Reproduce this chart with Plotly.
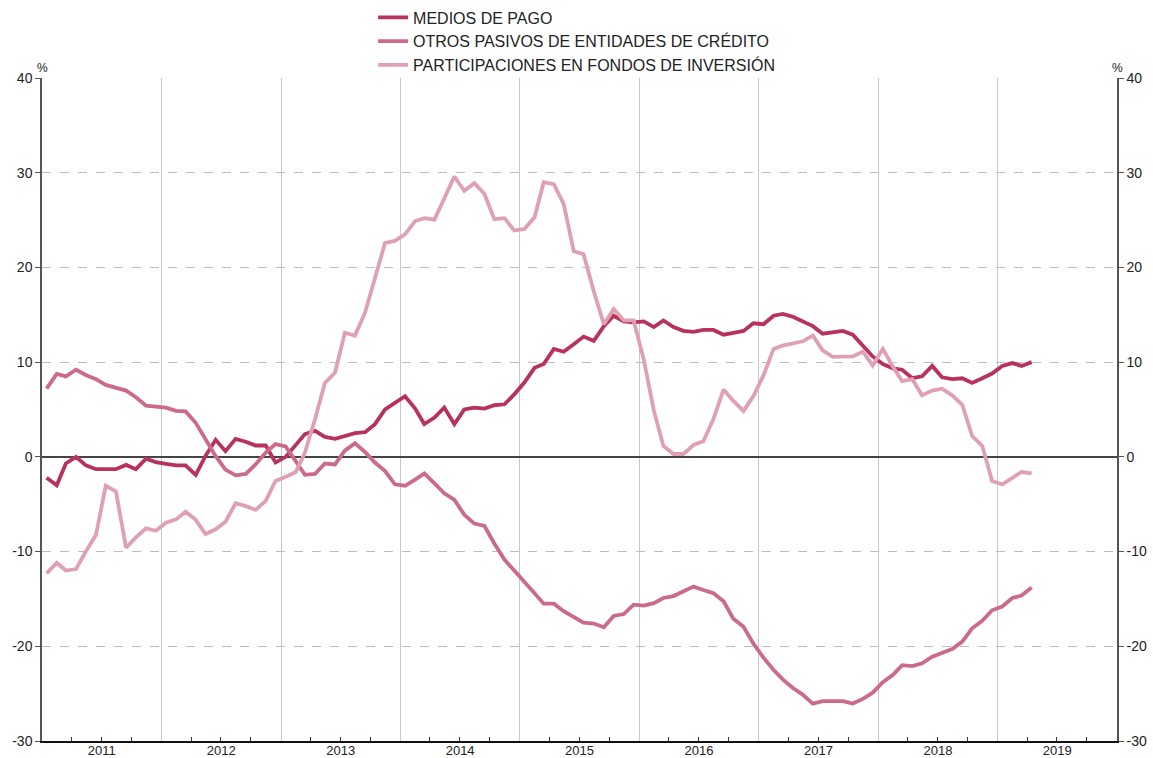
import pandas as pd
import plotly.graph_objects as go

# Monthly series, January 2011 - April 2019 (annual rate, %)
medios_de_pago = [
    -2.2, -3.0, -0.7, 0.0, -0.9, -1.3, -1.3, -1.3, -0.85, -1.3, -0.2, -0.55,
    -0.75, -0.9, -0.9, -1.9, 0.1, 1.8, 0.6, 1.9, 1.6, 1.2, 1.2, -0.6,
    0.0, 1.2, 2.4, 2.75, 2.1, 1.9, 2.2, 2.5, 2.6, 3.45, 5.0, 5.7,
    6.4, 5.1, 3.45, 4.15, 5.2, 3.45, 5.0, 5.2, 5.1, 5.45, 5.55, 6.6,
    7.85, 9.4, 9.8, 11.4, 11.1, 11.9, 12.7, 12.25, 13.8, 14.9, 14.3, 14.2,
    14.3, 13.7, 14.4, 13.7, 13.3, 13.2, 13.4, 13.4, 12.9, 13.1, 13.3, 14.1,
    14.0, 14.9, 15.1, 14.8, 14.3, 13.8, 13.0, 13.15, 13.3, 12.9, 11.7, 10.6,
    9.8, 9.35, 9.2, 8.3, 8.5, 9.6, 8.4, 8.2, 8.3, 7.8, 8.3, 8.8,
    9.6, 9.9, 9.6, 10.0,
]

otros_pasivos = [
    7.2, 8.75, 8.5, 9.2, 8.65, 8.2, 7.6, 7.35, 7.0, 6.3, 5.4, 5.3,
    5.2, 4.85, 4.8, 3.6, 1.85, 0.07, -1.35, -1.95, -1.8, -0.8, 0.45, 1.35,
    1.1, -0.4, -1.9, -1.8, -0.7, -0.8, 0.65, 1.45, 0.5, -0.6, -1.5, -2.9,
    -3.05, -2.4, -1.75, -2.8, -3.85, -4.55, -6.1, -7.05, -7.3, -9.15, -10.85, -12.0,
    -13.15, -14.4, -15.5, -15.5, -16.3, -16.9, -17.5, -17.6, -18.0, -16.8, -16.6, -15.6,
    -15.7, -15.45, -14.9, -14.7, -14.2, -13.7, -14.05, -14.4, -15.25, -17.1, -17.95, -19.7,
    -21.2, -22.5, -23.5, -24.4, -25.1, -26.05, -25.8, -25.8, -25.8, -26.05, -25.55, -24.9,
    -23.8, -23.0, -22.0, -22.1, -21.8, -21.1, -20.7, -20.3, -19.5, -18.1, -17.3, -16.2,
    -15.8, -14.9, -14.65, -13.8,
]

participaciones_fondos = [
    -12.3, -11.2, -12.0, -11.85, -10.0, -8.25, -3.05, -3.65, -9.6, -8.5, -7.55, -7.8,
    -6.95, -6.6, -5.8, -6.65, -8.15, -7.65, -6.85, -4.9, -5.2, -5.6, -4.65, -2.55,
    -2.1, -1.6, 0.45, 4.0, 7.8, 8.9, 13.1, 12.8, 15.25, 18.7, 22.6, 22.8,
    23.5, 24.9, 25.2, 25.05, 27.3, 29.6, 28.1, 28.9, 27.75, 25.1, 25.2, 23.9,
    24.05, 25.3, 29.0, 28.8, 26.7, 21.7, 21.4, 17.5, 14.0, 15.6, 14.4, 14.4,
    10.3, 4.85, 1.15, 0.3, 0.3, 1.25, 1.65, 4.0, 7.1, 5.9, 4.85, 6.4,
    8.6, 11.4, 11.75, 12.0, 12.2, 12.8, 11.25, 10.55, 10.6, 10.6, 11.1, 9.65,
    11.4, 9.5, 8.0, 8.2, 6.5, 7.0, 7.2, 6.5, 5.5, 2.2, 1.15, -2.55,
    -2.9, -2.2, -1.6, -1.75,
]

series_names = [
    "MEDIOS DE PAGO",
    "OTROS PASIVOS DE ENTIDADES DE CRÉDITO",
    "PARTICIPACIONES EN FONDOS DE INVERSIÓN",
]
series_colors = ["#b8325b", "#cc6a8b", "#e0a0b3"]

# Percentage scale shared by both vertical axes
y_ticks = [-30, -20, -10, 0, 10, 20, 30, 40]
y_tick_text = [str(v) for v in y_ticks]

# Observations plotted at mid-month
fechas = pd.date_range("2011-01-01", periods=len(medios_de_pago), freq="MS") + pd.Timedelta(days=14)

fig = go.Figure()
for name, values, color in zip(series_names,
                               [medios_de_pago, otros_pasivos, participaciones_fondos],
                               series_colors):
    fig.add_trace(go.Scatter(
        x=fechas, y=values, name=name, mode="lines",
        line=dict(color=color, width=3.8),
    ))

# Empty trace so the mirrored right-hand axis is drawn
fig.add_trace(go.Scatter(x=[fechas[0]], y=[None], yaxis="y2",
                         showlegend=False, hoverinfo="skip"))

axis_font = dict(family="Liberation Sans, Arial, sans-serif", size=14, color="#222")
year_font = dict(family="Liberation Sans, Arial, sans-serif", size=13, color="#222")

y_common = dict(
    range=[-30, 40], tickmode="array", tickvals=y_ticks, ticktext=y_tick_text,
    showline=True, linecolor="#555", linewidth=1.5,
    ticks="outside", ticklen=5, tickcolor="#555",
    tickfont=axis_font, automargin=False,
)

fig.update_layout(
    width=1153, height=758,
    margin=dict(l=42, r=36, t=78, b=17, autoexpand=False),
    paper_bgcolor="white", plot_bgcolor="white",
    font=dict(family="Liberation Sans, Arial, sans-serif", size=16, color="#222"),
    showlegend=True,
    legend=dict(
        x=0.308, y=1.117, xanchor="left", yanchor="top",
        orientation="v", bgcolor="rgba(0,0,0,0)",
        font=dict(size=16, color="#222"),
        tracegroupgap=0,
    ),
    xaxis=dict(
        type="date",
        range=["2011-01-01", "2020-01-01"],
        tick0="2011-01-01", dtick="M12",
        tickformat="%Y", ticklabelmode="period",
        showgrid=True, gridcolor="#c8c8c8", gridwidth=1,
        showline=True, linecolor="#111", linewidth=2,
        ticks="", tickfont=year_font, ticklabelstandoff=-4,
        minor=dict(dtick="M3", ticks="inside", ticklen=4,
                   tickcolor="#333", tickwidth=1, showgrid=False),
        automargin=False, zeroline=False,
    ),
    yaxis=dict(
        **y_common,
        showgrid=True, gridcolor="#bdbdbd", gridwidth=1, griddash="dash",
        zeroline=True, zerolinecolor="#444", zerolinewidth=1.5,
    ),
    yaxis2=dict(
        **y_common,
        overlaying="y", side="right",
        showgrid=False, zeroline=False,
    ),
    annotations=[
        dict(text="%", x=0, y=1, xref="paper", yref="paper",
             xanchor="center", yanchor="bottom", yshift=1, showarrow=False,
             font=dict(size=12, color="#222")),
        dict(text="%", x=1, y=1, xref="paper", yref="paper",
             xanchor="center", yanchor="bottom", yshift=1, showarrow=False,
             font=dict(size=12, color="#222")),
    ],
)

fig.write_html("out.html")
